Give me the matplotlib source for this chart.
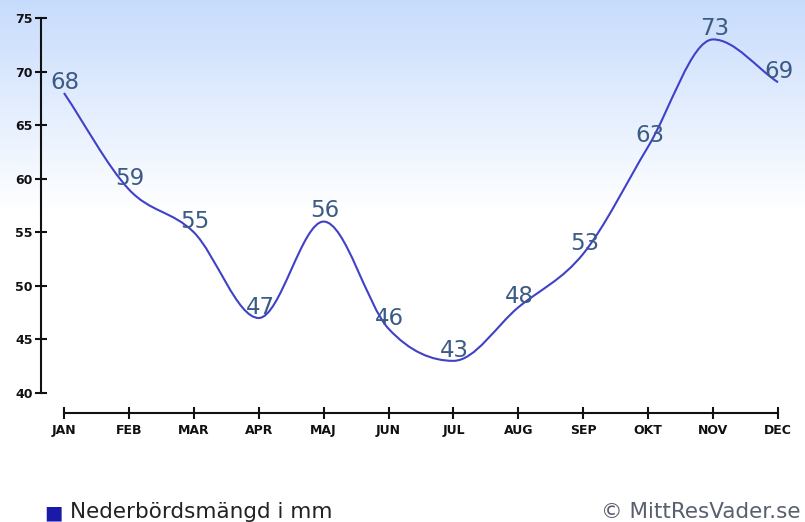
import matplotlib.pyplot as plt
import numpy as np
from matplotlib.path import Path
from matplotlib.patches import PathPatch

# data
months = ["JAN", "FEB", "MAR", "APR", "MAJ", "JUN", "JUL", "AUG", "SEP", "OKT", "NOV", "DEC"]
rain = [68, 59, 55, 47, 56, 46, 43, 48, 53, 63, 73, 69]
yticks = [40, 45, 50, 55, 60, 65, 70, 75]
legend_label = "Nederbördsmängd i mm"
credit = "© MittResVader.se"

W, H = 805, 522
fig = plt.figure(figsize=(W / 100, H / 100), dpi=100)

# background gradient (light blue at top -> white)
bg = fig.add_axes([0, 0, 1, 1], zorder=0)
grad = np.ones((H, 1, 3))
top = np.array([0.78, 0.86, 0.99])
fade = 210
for r in range(fade):
    f = r / fade
    grad[r, 0] = top * (1 - f) + np.ones(3) * f
bg.imshow(grad, aspect="auto", extent=[0, 1, 0, 1])
bg.axis("off")

# main axes, placed in pixels
left, right, top_px, bottom_px = 41, 805, 18, 413
ax = fig.add_axes([left / W, (H - bottom_px) / H, (right - left) / W, (bottom_px - top_px) / H], zorder=1)
ax.set_facecolor("none")

px_per_y = (393 - 18) / 35
px_per_x = (778 - 64) / 11
ax.set_ylim(75 - (bottom_px - top_px) / px_per_y, 75)
ax.set_xlim(-(64 - left) / px_per_x, (right - 64) / px_per_x)

# smooth line (monotone-style cubic through the points)
x = np.arange(len(rain))
y = np.array(rain, dtype=float)
n = len(y)
sec = np.diff(y)
m = np.zeros(n)
m[0], m[-1] = sec[0], sec[-1]
for i in range(1, n - 1):
    if sec[i - 1] * sec[i] <= 0:
        m[i] = 0
    else:
        m[i] = (sec[i - 1] + sec[i]) / 2
verts = [(x[0], y[0])]
codes = [Path.MOVETO]
for i in range(n - 1):
    verts += [(x[i] + 1 / 3, y[i] + m[i] / 3), (x[i + 1] - 1 / 3, y[i + 1] - m[i + 1] / 3), (x[i + 1], y[i + 1])]
    codes += [Path.CURVE4] * 3
ax.add_patch(PathPatch(Path(verts, codes), fill=False, edgecolor="#4040c8", lw=1.5, clip_on=False, zorder=3))

for xi, yi in zip(x, rain):
    ax.annotate(str(yi), (xi, yi), xytext=(1, 3), textcoords="offset points",
                ha="center", va="baseline", fontsize=16.5, color="#3b5b85", zorder=4)

# axes styling
for s in ["top", "right"]:
    ax.spines[s].set_visible(False)
ax.spines["left"].set_bounds(40, 75)
ax.spines["bottom"].set_bounds(0, 11)
for s in ["left", "bottom"]:
    ax.spines[s].set_linewidth(1.5)
    ax.spines[s].set_color("#111111")
ax.set_yticks(yticks)
ax.set_xticks(x)
ax.set_xticklabels(months)
ax.tick_params(axis="both", direction="inout", length=8, width=1.5, color="#111111",
               labelsize=9, labelcolor="#111111")
for lab in ax.get_xticklabels() + ax.get_yticklabels():
    lab.set_fontweight("bold")
ax.tick_params(axis="x", pad=4)
ax.tick_params(axis="y", pad=2)

# legend and credit
fig.text(44 / W, 1 - 518 / H, "■", fontsize=14, color="#1a1aa8", va="baseline")
fig.text(70 / W, 1 - 518 / H, legend_label, fontsize=15.5, color="#222222", va="baseline")
fig.text(800 / W, 1 - 518 / H, credit, fontsize=15.5, color="#5a5f70", va="baseline", ha="right")

fig.savefig("out.png", dpi=100)
